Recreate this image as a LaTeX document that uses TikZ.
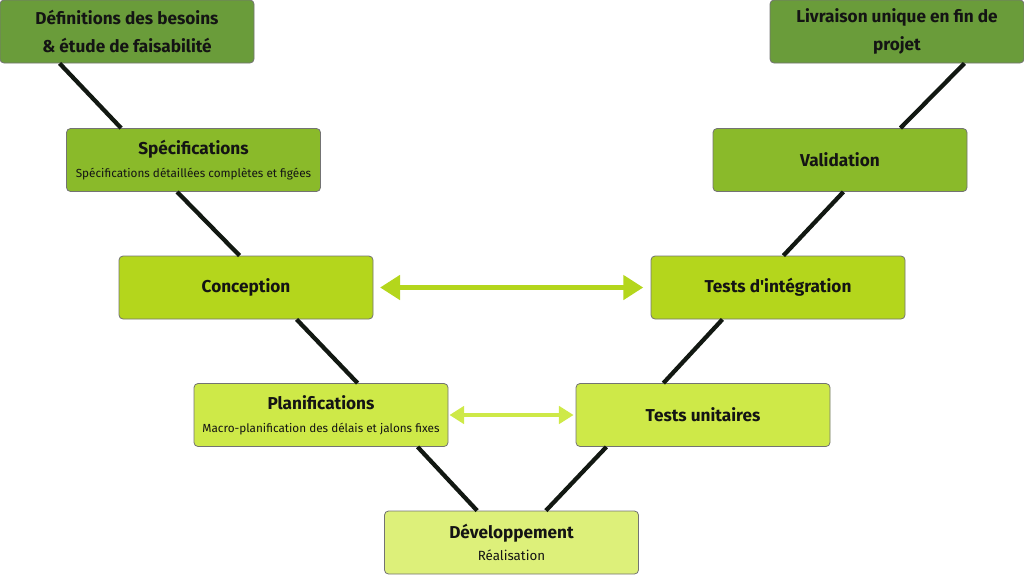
\documentclass[tikz,border=0pt]{standalone}
\usepackage{fontspec}
\setmainfont{Fira Sans}
\usepackage{tikz}
\usetikzlibrary{arrows.meta,positioning}
\definecolor{vgreenA}{HTML}{6A9C3A}
\definecolor{vgreenB}{HTML}{8ABA2A}
\definecolor{vgreenC}{HTML}{B4D61C}
\definecolor{vgreenD}{HTML}{CEE948}
\definecolor{vgreenE}{HTML}{DDF07A}
\definecolor{vline}{HTML}{121812}

\begin{document}
\begin{tikzpicture}[x=0.75pt, y=-0.75pt,
  phase/.style={draw=black!55, line width=0.6pt, rounded corners=3pt,
    minimum width=190.5pt, minimum height=47.25pt, align=center,
    inner sep=2pt, text=black!92},
  twoline/.style={font=\fontsize{12.9}{21}\selectfont\bfseries},
  vleg/.style={vline, line width=3.2pt},
  link/.style={{Triangle[length=15pt,width=18pt]}-{Triangle[length=15pt,width=18pt]},
    line width=3.6pt, vgreenC},
  linksmall/.style={{Triangle[length=11pt,width=13pt]}-{Triangle[length=11pt,width=13pt]},
    line width=3.4pt, vgreenD}]
  \useasboundingbox (0,0) rectangle (1024,576);
  \newcommand{\ttl}[1]{{\fontsize{12.9}{15}\selectfont\bfseries #1}}
  \newcommand{\sub}[1]{{\fontsize{8.8}{10}\selectfont #1}}

  % left branch
  \node[phase, twoline, fill=vgreenA] (def) at (127,31.5)
    {D\'efinitions des besoins\\ \& \'etude de faisabilit\'e};
  \node[phase, fill=vgreenB] (spec) at (193.5,160)
    {\ttl{Sp\'ecifications}\\[5pt]\sub{Sp\'ecifications d\'etaill\'ees compl\`etes et fig\'ees}};
  \node[phase, fill=vgreenC] (conc) at (246,287.5) {\ttl{Conception}};
  \node[phase, fill=vgreenD] (plan) at (321,415)
    {\ttl{Planifications}\\[5pt]\sub{Macro-planification des d\'elais et jalons fixes}};
  % bottom
  \node[phase, fill=vgreenE] (dev) at (511.5,542.5)
    {\ttl{D\'eveloppement}\\[4pt]{\fontsize{10}{11}\selectfont R\'ealisation}};
  % right branch
  \node[phase, fill=vgreenD] (tu) at (703,415) {\ttl{Tests unitaires}};
  \node[phase, fill=vgreenC] (ti) at (778,287.5) {\ttl{Tests d\textquotesingle int\'egration}};
  \node[phase, fill=vgreenB] (val) at (840,160) {\ttl{Validation}};
  \node[phase, twoline, fill=vgreenA] (liv) at (897,31.5)
    {Livraison unique en fin de\\ projet};

  % the V
  \draw[vleg] ([xshift=45pt]def.south west) -- ([xshift=41.25pt]spec.north west);
  \draw[vleg] ([xshift=83.25pt]spec.south west) -- ([xshift=90.75pt]conc.north west);
  \draw[vleg] ([xshift=133.5pt]conc.south west) -- ([xshift=123pt]plan.north west);
  \draw[vleg] ([xshift=168pt]plan.south west) -- ([xshift=69.75pt]dev.north west);
  \draw[vleg] ([xshift=-45pt]liv.south east) -- ([xshift=-50.25pt]val.north east);
  \draw[vleg] ([xshift=-93pt]val.south east) -- ([xshift=-91.5pt]ti.north east);
  \draw[vleg] ([xshift=-137.25pt]ti.south east) -- ([xshift=-125.25pt]tu.north east);
  \draw[vleg] ([xshift=-168pt]tu.south east) -- ([xshift=-69.75pt]dev.north east);

  % correspondences
  \draw[link, shorten <=5pt, shorten >=5.5pt] (conc.east) -- (ti.west);
  \draw[linksmall, shorten <=0.8pt, shorten >=1.5pt] (plan.east) -- (tu.west);
\end{tikzpicture}
\end{document}
